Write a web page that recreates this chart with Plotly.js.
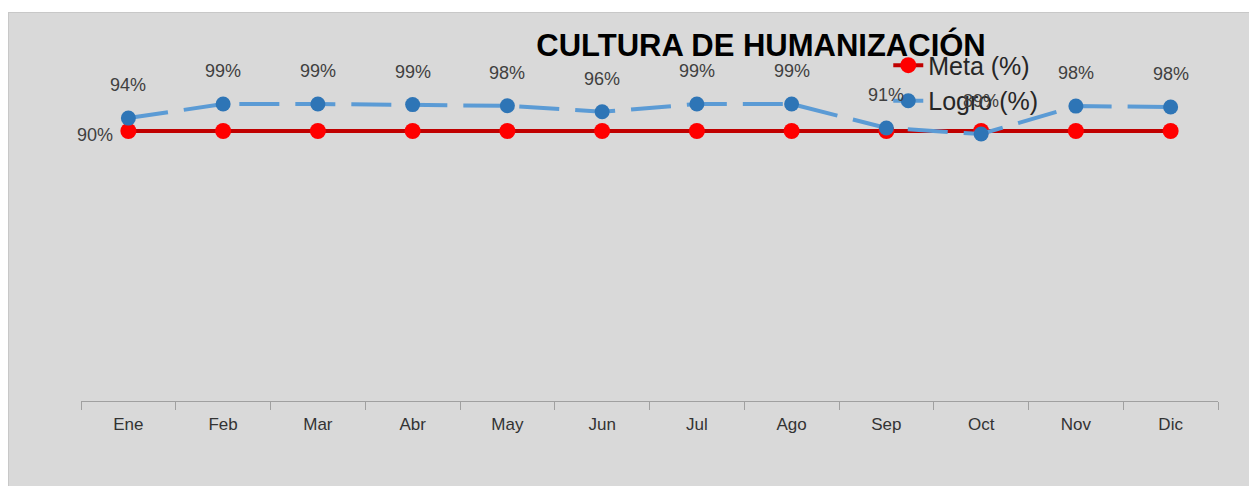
<!DOCTYPE html>
<html>
<head>
<meta charset="utf-8">
<script src="https://cdn.plot.ly/plotly-3.0.1.min.js"></script>
<style>
  html, body { margin: 0; padding: 0; background: #ffffff; }
  #chart { position: absolute; left: 8px; top: 12px; width: 1241px; height: 474px;
           border-top: 1px solid #c8c8c8; border-left: 1px solid #c8c8c8; box-sizing: border-box; }
</style>
</head>
<body>
<div id="chart"></div>
<script>
// chart data
const months = ['Ene', 'Feb', 'Mar', 'Abr', 'May', 'Jun', 'Jul', 'Ago', 'Sep', 'Oct', 'Nov', 'Dic'];
const meta = [90, 90, 90, 90, 90, 90, 90, 90, 90, 90, 90, 90];
const logro = [94.3, 99.0, 99.0, 98.8, 98.4, 96.4, 99.0, 99.0, 91.0, 89.0, 98.3, 98.0];

const labelFont = { family: 'Liberation Sans, Arial, sans-serif', size: 18, color: '#404040' };

const traceMeta = {
    x: months,
    y: meta,
    name: 'Meta (%)',
    mode: 'lines+markers',
    type: 'scatter',
    line: { color: '#c00000', width: 4 },
    marker: { color: '#ff0000', size: 16 },
    hoverinfo: 'skip'
};

const traceLogro = {
    x: months,
    y: logro,
    name: 'Logro (%)',
    mode: 'lines+markers',
    type: 'scatter',
    line: { color: '#5b9bd5', width: 4, dash: '40px,16px' },
    marker: { color: '#2e75b6', size: 15 },
    hoverinfo: 'skip'
};

// data labels
const annotations = logro.map((v, i) => ({
    x: months[i], y: v, text: Math.round(v) + '%',
    showarrow: false, yshift: 33, font: labelFont
}));
annotations.push({
    x: months[0], y: meta[0], text: meta[0] + '%',
    showarrow: false, xanchor: 'right', xshift: -13, yshift: -4, font: labelFont
});

const layout = {
    width: 1241,
    height: 474,
    paper_bgcolor: '#d9d9d9',
    plot_bgcolor: '#d9d9d9',
    margin: { l: 72, r: 32, t: 28, b: 86 },
    title: {
        text: '<b>CULTURA DE HUMANIZACIÓN</b>',
        font: { family: 'Liberation Sans, Arial, sans-serif', size: 31, color: '#000000' },
        xref: 'container', x: 0.606, xanchor: 'center',
        yref: 'container', y: 0.932, yanchor: 'middle'
    },
    xaxis: {
        type: 'category',
        range: [-0.5, 11.5],
        showline: true, linecolor: '#a0a0a0', linewidth: 1,
        ticks: 'outside', tickson: 'boundaries', ticklen: 8, tickcolor: '#a0a0a0',
        ticklabelstandoff: 8,
        showgrid: false, zeroline: false,
        tickfont: { family: 'Liberation Sans, Arial, sans-serif', size: 17, color: '#333333' },
        fixedrange: true
    },
    yaxis: {
        range: [0, 120], visible: false, showgrid: false, zeroline: false, fixedrange: true
    },
    showlegend: true,
    legend: {
        x: 0.71, y: 0.996, xanchor: 'left', yanchor: 'top',
        bgcolor: 'rgba(0,0,0,0)',
        font: { family: 'Liberation Sans, Arial, sans-serif', size: 25, color: '#262626' },
        tracegroupgap: 0
    },
    annotations: annotations
};

Plotly.newPlot('chart', [traceMeta, traceLogro], layout, { displayModeBar: false, staticPlot: true });
</script>
</body>
</html>
